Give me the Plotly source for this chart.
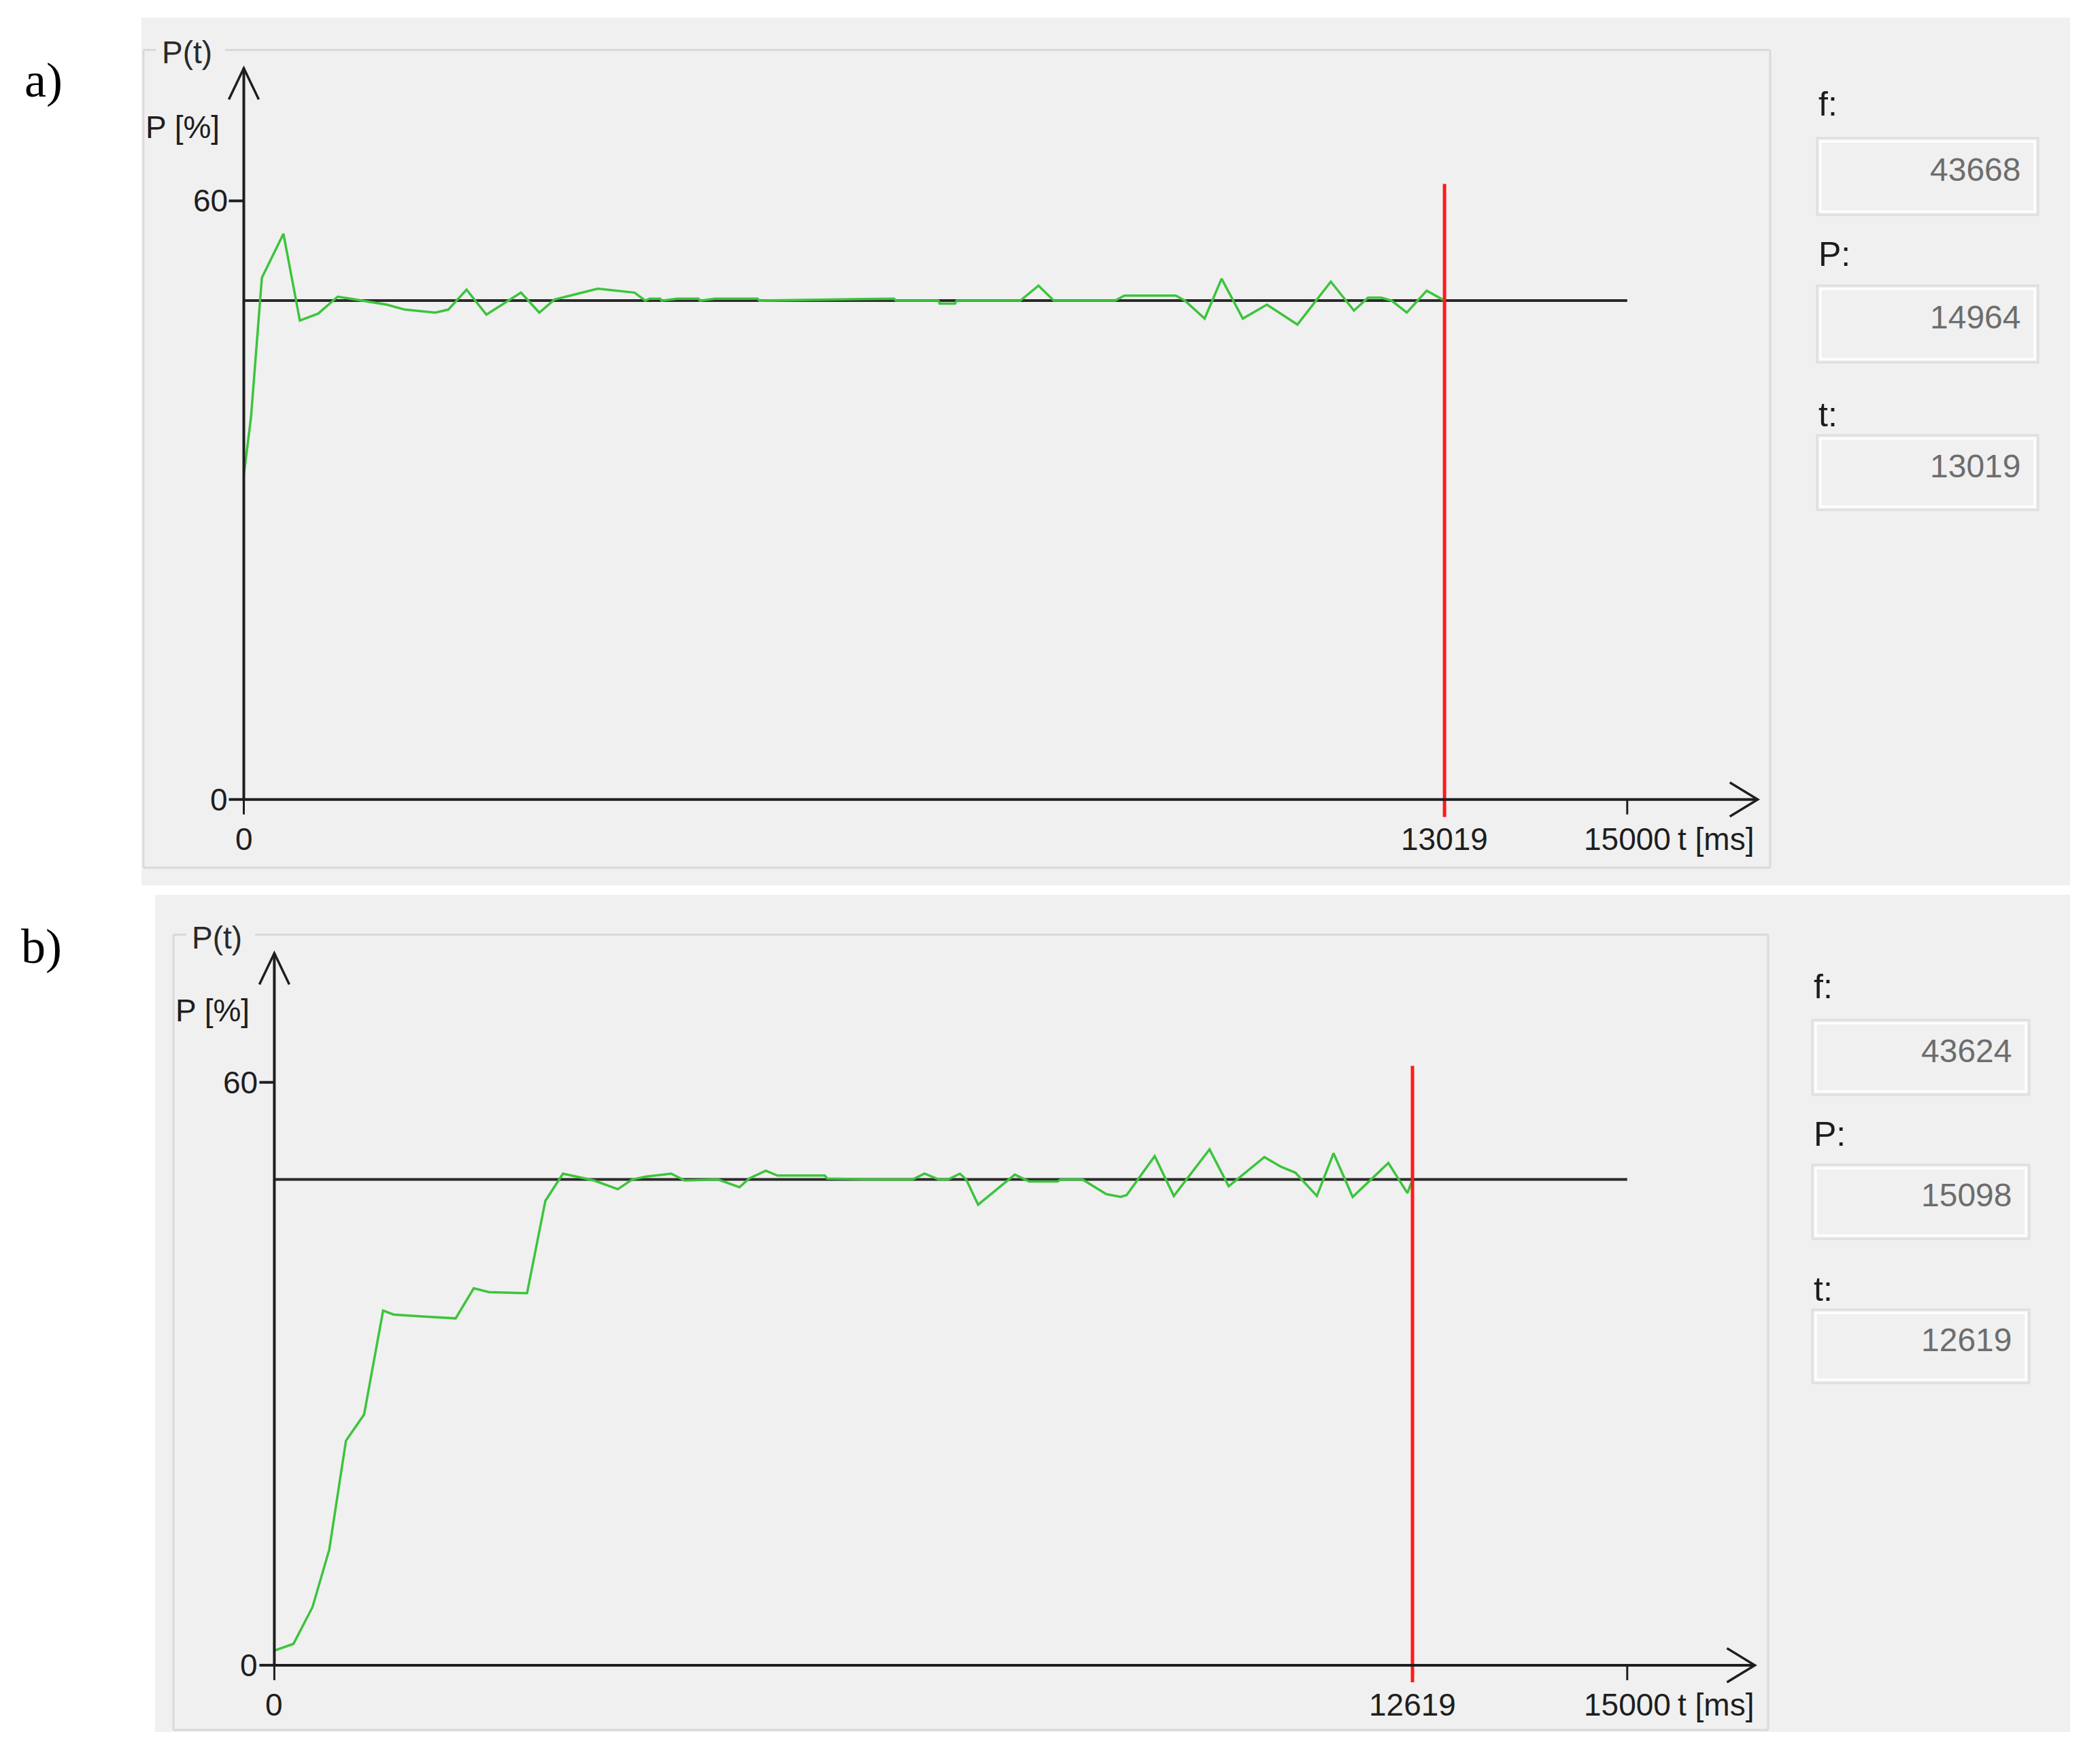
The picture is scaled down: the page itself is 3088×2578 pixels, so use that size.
import plotly.graph_objects as go

W, H = 3088, 2578

# ---- values ----
# a) power curve P(t): time [ms], power [%]
t_a = [0, 78, 196, 430, 608, 807, 1018,
       1276, 1550, 1747, 2076, 2217, 2415, 2630,
       3005, 3204, 3367, 3581, 3839, 4237, 4354,
       4400, 4515, 4530, 4700, 4930, 4945, 5110,
       5570, 5590, 6810, 7050, 7070, 7531, 7545,
       7710, 7730, 8420, 8616, 8782, 9449, 9547,
       10106, 10205, 10418, 10602, 10832, 11093, 11424,
       11786, 12037, 12190, 12330, 12445, 12610, 12826,
       13019]
p_a = [32.5, 38.3, 52.3, 56.7, 48.0, 48.7, 50.4,
       50.0, 49.6, 49.1, 48.8, 49.1, 51.1, 48.6,
       50.8, 48.8, 50.1, 50.6, 51.2, 50.8, 50.0,
       50.2, 50.2, 50.0, 50.2, 50.2, 50.0, 50.2,
       50.2, 50.0, 50.2, 50.2, 50.0, 50.0, 49.7,
       49.7, 50.0, 50.0, 51.5, 50.0, 50.0, 50.5,
       50.5, 50.0, 48.2, 52.2, 48.2, 49.6, 47.6,
       51.9, 49.0, 50.3, 50.3, 50.0, 48.8, 51.0,
       50.0]

# b) power curve P(t)
t_b = [0, 212, 424, 609, 794, 995,
       1206, 1322, 1640, 2010, 2211, 2379, 2802,
       3005, 3200, 3412, 3544, 3808, 3967, 4126,
       4401, 4549, 4919, 5157, 5263, 5449, 5578,
       6103, 6131, 6706, 7076, 7209, 7367, 7470,
       7601, 7671, 7803, 8210, 8316, 8367, 8684,
       8720, 8960, 9223, 9383, 9450, 9761, 9973,
       10369, 10581, 10977, 11162, 11321, 11559, 11744,
       11956, 12352, 12563, 12619]
p_b = [1.5, 2.2, 6.0, 11.9, 23.1, 25.8,
       36.5, 36.1, 35.9, 35.7, 38.8, 38.4, 38.3,
       47.8, 50.6, 50.2, 49.9, 49.0, 50.0, 50.3,
       50.6, 49.9, 50.0, 49.2, 50.1, 50.9, 50.4,
       50.4, 50.1, 50.0, 50.0, 50.6, 50.0, 50.0,
       50.6, 50.0, 47.4, 50.5, 50.0, 49.8, 49.8,
       50.0, 50.0, 48.5, 48.2, 48.4, 52.4, 48.3,
       53.1, 49.3, 52.3, 51.3, 50.7, 48.3, 52.7,
       48.2, 51.7, 48.6, 50.0]

p_ref = 50            # set-point line
t_end = 15000         # last labelled time
p_ticks = [0, 60]
cursor_a = 13019
cursor_b = 12619
cursor_span = [-1.75, 61.7]
readout_names = ["f:", "P:", "t:"]
readout_a = ["43668", "14964", "13019"]
readout_b = ["43624", "15098", "12619"]

FONT = "Liberation Sans Narrow, Liberation Sans, Arial, sans-serif"
BG = "#f0f0f0"
AX = "#1e1e1e"
GREEN = "#3cc43c"
RED = "#ff1a1a"

# screen geometry of each panel (pixels)
panels = [
    dict(tag="a)", t=t_a, p=p_a, cursor=cursor_a, vals=readout_a,
         bg=(208, 26, 3044, 1302), box=(211, 73.5, 2603, 1276), gap=(229, 331),
         x0=358.5, x15=2392.8, y0=1175.7, y60=295.4, dom=(215, 50, 2598, 1270),
         tag_xy=(64, 118), rx=(2672, 2997), lab_y=[153, 374, 610],
         box_y=[(203, 316), (420, 533), (640, 750)]),
    dict(tag="b)", t=t_b, p=p_b, cursor=cursor_b, vals=readout_b,
         bg=(228, 1316, 3044, 2547), box=(255, 1374.5, 2600, 2544), gap=(274, 375),
         x0=403.4, x15=2392.8, y0=2448.9, y60=1591.7, dom=(260, 1350, 2598, 2540),
         tag_xy=(61, 1392), rx=(2665, 2984), lab_y=[1451, 1668, 1896],
         box_y=[(1500, 1610), (1713, 1822), (1926, 2034)]),
]


def px(x):
    return x / W


def py(y):
    return 1 - y / H


fig = go.Figure()
shapes, annos = [], []
layout_axes = {}

for i, pn in enumerate(panels):
    sfx = "" if i == 0 else "2"
    xa, ya = "x" + sfx, "y" + sfx
    ms_px = t_end / (pn["x15"] - pn["x0"])
    pc_px = 60 / (pn["y0"] - pn["y60"])
    dl, dt, dr, db = pn["dom"]
    layout_axes["xaxis" + sfx] = dict(domain=[px(dl), px(dr)],
                                      range=[(dl - pn["x0"]) * ms_px, (dr - pn["x0"]) * ms_px],
                                      visible=False, anchor=ya, fixedrange=True)
    layout_axes["yaxis" + sfx] = dict(domain=[py(db), py(dt)],
                                      range=[(pn["y0"] - db) * pc_px, (pn["y0"] - dt) * pc_px],
                                      visible=False, anchor=xa, fixedrange=True)

    # panel background and group box
    bx0, by0, bx1, by1 = pn["bg"]
    shapes.append(dict(type="rect", xref="paper", yref="paper", layer="below",
                       x0=px(bx0), x1=px(bx1), y0=py(by1), y1=py(by0),
                       fillcolor=BG, line=dict(width=0)))
    gx0, gy0, gx1, gy1 = pn["box"]
    g = dict(color="#d9d9d9", width=3)
    for seg in [(gx0, gy0, pn["gap"][0], gy0), (pn["gap"][1], gy0, gx1, gy0),
                (gx0, gy0, gx0, gy1), (gx1, gy0, gx1, gy1), (gx0, gy1, gx1, gy1)]:
        shapes.append(dict(type="line", xref="paper", yref="paper", layer="below",
                           x0=px(seg[0]), y0=py(seg[1]), x1=px(seg[2]), y1=py(seg[3]), line=g))

    # traces
    fig.add_trace(go.Scatter(x=[0, t_end], y=[p_ref, p_ref], mode="lines",
                             line=dict(color="#2a2a2a", width=4), xaxis=xa, yaxis=ya,
                             hoverinfo="skip", showlegend=False))
    fig.add_trace(go.Scatter(x=pn["t"], y=pn["p"], mode="lines",
                             line=dict(color=GREEN, width=3.5), xaxis=xa, yaxis=ya,
                             showlegend=False))
    fig.add_trace(go.Scatter(x=[pn["cursor"], pn["cursor"]], y=cursor_span, mode="lines",
                             line=dict(color=RED, width=5), xaxis=xa, yaxis=ya,
                             hoverinfo="skip", showlegend=False))

    # drawn axes with open arrow heads
    axl = dict(color=AX, width=4)
    t_tip, p_tip = 16415, 73.3
    shapes.append(dict(type="line", xref=xa, yref=ya, x0=0, y0=0, x1=t_tip, y1=0, line=axl))
    shapes.append(dict(type="line", xref=xa, yref=ya, x0=0, y0=0, x1=0, y1=p_tip, line=axl))
    shapes.append(dict(type="path", xref=xa, yref=ya, line=dict(color=AX, width=3.5),
                       path="M%f,%f L%f,%f L%f,%f" % (-22 * ms_px, p_tip - 46 * pc_px, 0, p_tip,
                                                     22 * ms_px, p_tip - 46 * pc_px)))
    shapes.append(dict(type="path", xref=xa, yref=ya, line=dict(color=AX, width=3.5),
                       path="M%f,%f L%f,%f L%f,%f" % (t_tip - 41 * ms_px, 25 * pc_px, t_tip, 0,
                                                     t_tip - 41 * ms_px, -25 * pc_px)))
    tick_font = dict(family=FONT, size=46, color=AX)
    for v in p_ticks:
        shapes.append(dict(type="line", xref=xa, yref=ya, x0=-22 * ms_px, x1=0, y0=v, y1=v, line=axl))
        annos.append(dict(x=0, y=v, xref=xa, yref=ya, text=str(v), showarrow=False,
                          xanchor="right", yanchor="middle", xshift=-22, font=tick_font))
    for v in [0, t_end]:
        shapes.append(dict(type="line", xref=xa, yref=ya, x0=v, x1=v, y0=0, y1=-22 * pc_px,
                           line=dict(color=AX, width=3)))
    for v in [0, pn["cursor"], t_end]:
        annos.append(dict(x=v, y=0, xref=xa, yref=ya, text=str(v), showarrow=False,
                          xanchor="center", yanchor="middle", yshift=-58, font=tick_font))
    annos.append(dict(x=t_end, y=0, xref=xa, yref=ya, text="t [ms]", showarrow=False,
                      xanchor="left", yanchor="middle", xshift=72, yshift=-58, font=tick_font))
    annos.append(dict(x=0, y=67.4, xref=xa, yref=ya, text="P [%]", showarrow=False,
                      xanchor="right", yanchor="middle", xshift=-34, font=tick_font))
    annos.append(dict(x=0, y=74.9, xref=xa, yref=ya, text="P(t)", showarrow=False,
                      xanchor="center", yanchor="middle", xshift=-84,
                      font=dict(family=FONT, size=46, color="#2a2a2a")))

    # panel tag a) / b)
    annos.append(dict(x=px(pn["tag_xy"][0]), y=py(pn["tag_xy"][1]), xref="paper", yref="paper",
                      text=pn["tag"], showarrow=False, xanchor="center", yanchor="middle",
                      font=dict(family="Liberation Serif, Times New Roman, serif", size=72,
                                color="#000000")))

    # read-out fields on the right
    rx0, rx1 = pn["rx"]
    for name, val, ly, (ry0, ry1) in zip(readout_names, pn["vals"], pn["lab_y"], pn["box_y"]):
        annos.append(dict(x=px(rx0), y=py(ly), xref="paper", yref="paper", text=name,
                          showarrow=False, xanchor="left", yanchor="middle",
                          font=dict(family=FONT, size=50, color="#1c1c1c")))
        shapes.append(dict(type="rect", xref="paper", yref="paper", layer="below",
                           x0=px(rx0), x1=px(rx1), y0=py(ry1), y1=py(ry0),
                           line=dict(color="#dedede", width=3)))
        shapes.append(dict(type="rect", xref="paper", yref="paper", layer="below",
                           x0=px(rx0 + 5), x1=px(rx1 - 5), y0=py(ry1 - 5), y1=py(ry0 + 5),
                           line=dict(color="#ffffff", width=3)))
        annos.append(dict(x=px(rx1 - 24), y=py((ry0 + ry1) / 2 - 10), xref="paper", yref="paper",
                          text=val, showarrow=False, xanchor="right", yanchor="middle",
                          font=dict(family=FONT, size=48, color="#6d6d6d")))

fig.update_layout(
    width=W, height=H,
    margin=dict(l=0, r=0, t=0, b=0),
    paper_bgcolor="#ffffff",
    plot_bgcolor="rgba(0,0,0,0)",
    shapes=shapes,
    annotations=annos,
    showlegend=False,
    **layout_axes,
)

# the page body has a default 8px margin; drop it so the figure sits at the window origin
fig.write_html("out.html", config={"displayModeBar": False},
               post_script="document.body.style.margin='0';")
